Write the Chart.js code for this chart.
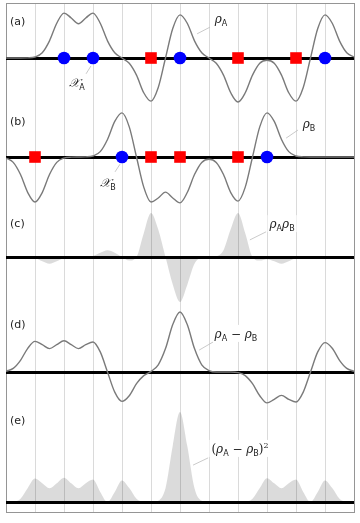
<!DOCTYPE html>
<html>
<head>
<meta charset="utf-8">
<script src="https://cdn.jsdelivr.net/npm/chart.js@4.4.1/dist/chart.umd.min.js"></script>
<style>
  html, body { margin: 0; padding: 0; background: #fff; }
  canvas { display: block; }
</style>
</head>
<body>
<canvas id="chart" width="360" height="523"></canvas>
<script>
"use strict";

// sample positions along the line
const XS = [
  0, 0.25, 0.5, 0.75, 1, 1.25, 1.5, 1.75, 2, 2.25, 2.5, 2.75,
  3, 3.25, 3.5, 3.75, 4, 4.25, 4.5, 4.75, 5, 5.25, 5.5, 5.75,
  6, 6.25, 6.5, 6.75, 7, 7.25, 7.5, 7.75, 8, 8.25, 8.5, 8.75,
  9, 9.25, 9.5, 9.75, 10, 10.25, 10.5, 10.75, 11, 11.25, 11.5, 11.75, 12,
];

const RHO_A = [
  0, 0, 0, 0.003, 0.023, 0.12, 0.39, 0.79, 1.02, 0.91, 0.78, 0.91,
  1.02, 0.79, 0.39, 0.12, 0, -0.12, -0.39, -0.79, -0.98, -0.67, 0, 0.67,
  0.98, 0.79, 0.39, 0.12, 0, -0.12, -0.39, -0.79, -1, -0.79, -0.39, -0.12,
  -0.05, -0.12, -0.39, -0.79, -0.98, -0.67, 0, 0.67, 0.98, 0.79, 0.39, 0.12, 0.023,
];

const RHO_B = [
  -0.023, -0.12, -0.39, -0.79, -1, -0.79, -0.39, -0.12, -0.023, -0.003, 0, 0.003,
  0.023, 0.12, 0.39, 0.79, 0.98, 0.67, 0, -0.67, -1, -0.91, -0.78, -0.91,
  -1.02, -0.79, -0.39, -0.12, -0.05, -0.12, -0.39, -0.79, -0.98, -0.67, 0, 0.67,
  0.98, 0.79, 0.39, 0.12, 0.023, 0.003, 0, 0, 0, 0, 0, 0, 0,
];

const RHO_AB = [
  0, 0, 0, -0.002, -0.023, -0.095, -0.15, -0.095, -0.023, -0.003, 0, 0.003,
  0.023, 0.095, 0.15, 0.095, 0, -0.08, 0, 0.53, 0.98, 0.61, 0, -0.61,
  -1, -0.62, -0.15, -0.014, 0, 0.014, 0.15, 0.62, 0.98, 0.53, 0, -0.08,
  -0.05, -0.095, -0.15, -0.095, -0.023, -0.002, 0, 0, 0, 0, 0, 0, 0,
];

const RHO_DIFF = [
  0.023, 0.12, 0.39, 0.79, 1.02, 0.91, 0.78, 0.91, 1.04, 0.91, 0.78, 0.91,
  1.0, 0.67, 0, -0.67, -0.98, -0.79, -0.39, -0.12, 0.02, 0.24, 0.78, 1.58,
  2.0, 1.58, 0.78, 0.24, 0.05, 0, 0, 0, -0.02, -0.12, -0.39, -0.79,
  -1.03, -0.91, -0.78, -0.91, -1.0, -0.67, 0, 0.67, 0.98, 0.79, 0.39, 0.12, 0.023,
];

const RHO_DIFF_SQ = [
  0, 0.014, 0.15, 0.62, 1.04, 0.83, 0.61, 0.83, 1.08, 0.83, 0.61, 0.83,
  1.0, 0.45, 0, 0.45, 0.96, 0.62, 0.15, 0.014, 0, 0.058, 0.61, 2.5,
  4.0, 2.5, 0.61, 0.058, 0.003, 0, 0, 0, 0, 0.014, 0.15, 0.62,
  1.06, 0.83, 0.61, 0.83, 1.0, 0.45, 0, 0.45, 0.96, 0.62, 0.15, 0.014, 0,
];

// marker positions (blue = +, red = -)
const A_PLUS = [2, 3, 6, 11];
const A_MINUS = [5, 8, 10];
const B_PLUS = [4, 9];
const B_MINUS = [1, 5, 6, 8];

const CURVE = "#7a7a7a";
const SHADE = "rgba(0, 0, 0, 0.14)";
const BLUE = "#0000ff";
const RED = "#ff0000";

// one stacked y axis per panel, top to bottom
const PANELS = [
  { id: "ya", tag: "(a)", tagY: 0.82, min: -1.136, max: 1.25, size: 105 },
  { id: "yb", tag: "(b)", tagY: 0.78, min: -1.111, max: 1.089, size: 99 },
  { id: "yc", tag: "(c)", tagY: 0.73, min: -1.111, max: 1.111, size: 100 },
  { id: "yd", tag: "(d)", tagY: 1.57, min: -1.333, max: 2.167, size: 105 },
  { id: "ye", tag: "(e)", tagY: 3.6, min: -0.444, max: 4.0, size: 100 },
];

// math labels: [text, style] where i = italic, r = roman, s = subscript, p = superscript
const LABELS = [
  { axis: "ya", x: 7.41, y: 0.88, text: [["ρ", "i"], ["A", "s"]], from: [6.59, 0.55], to: [7.03, 0.7] },
  { axis: "ya", x: 2.45, y: -0.57, text: [["𝒳", "i"], ["A", "s"]], from: [2.93, -0.18], to: [2.76, -0.36] },
  { axis: "yb", x: 10.45, y: 0.73, text: [["ρ", "i"], ["B", "s"]], from: [9.66, 0.42], to: [10.07, 0.6] },
  { axis: "yb", x: 3.52, y: -0.58, text: [["𝒳", "i"], ["B", "s"]], from: [3.93, -0.16], to: [3.76, -0.33] },
  { axis: "yc", x: 9.52, y: 0.73, text: [["ρ", "i"], ["A", "s"], ["ρ", "i"], ["B", "s"]], from: [8.41, 0.38], to: [8.97, 0.56] },
  { axis: "yd", x: 7.93, y: 1.27, text: [["ρ", "i"], ["A", "s"], [" − ", "r"], ["ρ", "i"], ["B", "s"]], from: [6.66, 0.73], to: [7.14, 1.0] },
  { axis: "ye", x: 8.07, y: 2.36, text: [["(", "r"], ["ρ", "i"], ["A", "s"], [" − ", "r"], ["ρ", "i"], ["B", "s"], [")", "r"], ["2", "p"]], from: [6.45, 1.64], to: [6.97, 1.96] },
];

const FONTS = {
  i: "italic 12px 'DejaVu Serif'",
  r: "12px 'DejaVu Serif'",
  s: "8px 'DejaVu Sans'",
  p: "8px 'DejaVu Serif'",
};
const SHIFT = { i: 0, r: 0, s: 3, p: -5 };

function curve(ys, axis, filled) {
  return {
    data: XS.map((x, i) => ({ x, y: ys[i] })),
    yAxisID: axis,
    borderColor: filled ? "rgba(0,0,0,0)" : CURVE,
    borderWidth: filled ? 0 : 1.4,
    backgroundColor: SHADE,
    fill: filled ? "origin" : false,
    pointRadius: 0,
    cubicInterpolationMode: "monotone",
    order: 2,
  };
}

function markers(xs, axis, color, style) {
  return {
    data: xs.map((x) => ({ x, y: 0 })),
    yAxisID: axis,
    showLine: false,
    pointStyle: style,
    pointRadius: style === "rect" ? 8.2 : 6.3,
    pointBackgroundColor: color,
    pointBorderWidth: 0,
    order: 0,
  };
}

function drawMath(ctx, segs, cx, cy) {
  const widths = segs.map(([t, s]) => {
    ctx.font = FONTS[s];
    return ctx.measureText(t).width;
  });
  const w = widths.reduce((a, b) => a + b, 0);
  let x = cx - w / 2;
  ctx.fillStyle = "#fff";
  ctx.fillRect(x - 2, cy - 9, w + 4, 17);
  ctx.fillStyle = "#222";
  ctx.textBaseline = "alphabetic";
  ctx.textAlign = "left";
  segs.forEach(([t, s], i) => {
    ctx.font = FONTS[s];
    ctx.fillText(t, x, cy + 4 + SHIFT[s]);
    x += widths[i];
  });
}

const annotate = {
  id: "annotate",
  afterDatasetsDraw(chart) {
    const { ctx, scales } = chart;
    const sx = scales.x;
    ctx.save();
    LABELS.forEach((l) => {
      const sy = scales[l.axis];
      ctx.strokeStyle = "#bdbdbd";
      ctx.lineWidth = 0.8;
      ctx.beginPath();
      ctx.moveTo(sx.getPixelForValue(l.from[0]), sy.getPixelForValue(l.from[1]));
      ctx.lineTo(sx.getPixelForValue(l.to[0]), sy.getPixelForValue(l.to[1]));
      ctx.stroke();
      drawMath(ctx, l.text, sx.getPixelForValue(l.x), sy.getPixelForValue(l.y));
    });
    ctx.font = "11px 'DejaVu Sans'";
    ctx.fillStyle = "#222";
    ctx.textAlign = "left";
    ctx.textBaseline = "middle";
    PANELS.forEach((p) => {
      ctx.fillText(p.tag, sx.getPixelForValue(0.14), scales[p.id].getPixelForValue(p.tagY));
    });
    ctx.restore();
  },
};

const yScales = {};
PANELS.forEach((p, i) => {
  yScales[p.id] = {
    type: "linear",
    position: "right",
    stack: "panels",
    stackWeight: p.size,
    weight: i + 1,
    min: p.min,
    max: p.max,
    bounds: "data",
    afterBuildTicks: (axis) => { axis.ticks = [{ value: 0 }]; },
    grid: { color: "#000", lineWidth: 3, drawTicks: false },
    ticks: { display: false },
    border: { display: false },
  };
});

const datasets = [
  markers(A_PLUS, "ya", BLUE, "circle"),
  markers(A_MINUS, "ya", RED, "rect"),
  markers(B_PLUS, "yb", BLUE, "circle"),
  markers(B_MINUS, "yb", RED, "rect"),
  curve(RHO_A, "ya", false),
  curve(RHO_B, "yb", false),
  curve(RHO_AB, "yc", true),
  curve(RHO_DIFF, "yd", false),
  curve(RHO_DIFF_SQ, "ye", true),
];

new Chart(document.getElementById("chart"), {
  type: "line",
  data: { datasets },
  options: {
    responsive: false,
    animation: false,
    events: [],
    layout: { autoPadding: false, padding: { left: 6, right: 6, top: 3, bottom: 11 } },
    plugins: { legend: { display: false }, tooltip: { enabled: false } },
    scales: {
      x: {
        type: "linear",
        position: "bottom",
        min: 0,
        max: 12,
        ticks: { display: false, stepSize: 1 },
        grid: {
          drawTicks: false,
          lineWidth: 1,
          color: (c) => (c.tick && (c.tick.value === 0 || c.tick.value === 12) ? "#959595" : "#dadada"),
        },
        border: { color: "#959595" },
      },
      xTop: {
        type: "linear",
        position: "top",
        min: 0,
        max: 12,
        ticks: { display: false },
        grid: { display: false, drawTicks: false },
        border: { color: "#959595" },
      },
      ...yScales,
    },
  },
  plugins: [annotate],
});
</script>
</body>
</html>
